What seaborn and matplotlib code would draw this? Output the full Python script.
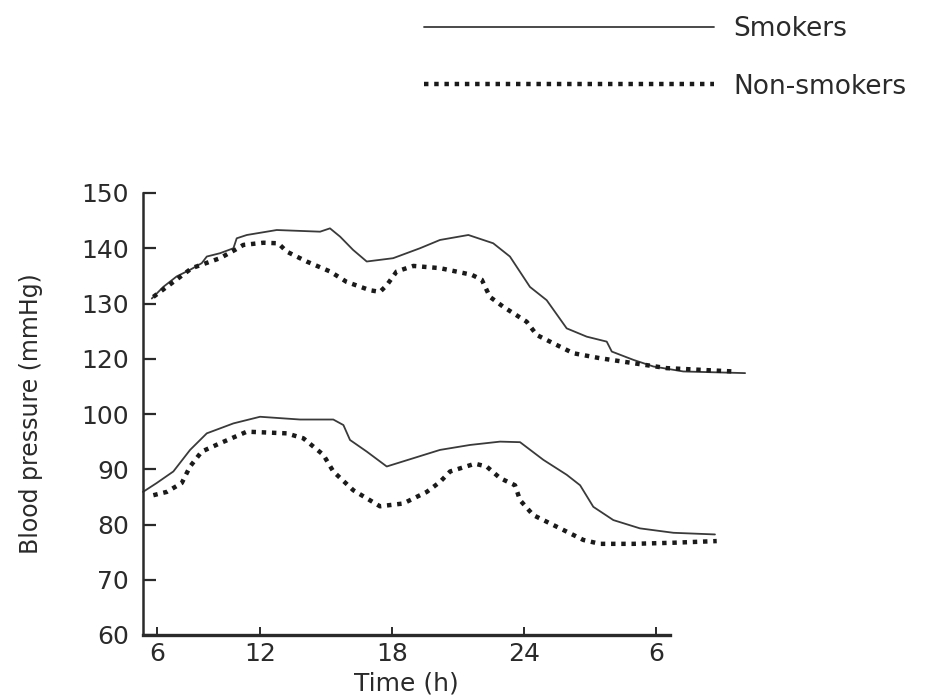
import numpy as np
import pandas as pd
import matplotlib
matplotlib.use("Agg")
import matplotlib.pyplot as plt
import seaborn as sns
from matplotlib.lines import Line2D

# ---------------- data (time in h since midnight, values in mmHg) ----------------
sys_smk_t = [7.08, 7.60, 8.21, 8.82, 9.35, 9.58, 10.18, 10.79, 10.94, 11.40, 12.76, 14.73,
             15.18, 15.64, 16.23, 16.85, 18.05, 19.27, 20.18, 21.47, 22.60, 23.36, 24.27,
             25.03, 25.94, 26.85, 27.76, 27.99, 28.97, 29.88, 31.24, 34.05]
sys_smk_v = [130.9, 133.0, 134.9, 136.1, 137.3, 138.5, 139.1, 140.0, 141.8, 142.4, 143.3, 143.0,
             143.6, 142.1, 139.7, 137.6, 138.2, 140.0, 141.5, 142.4, 140.9, 138.5, 133.0,
             130.6, 125.5, 124.0, 123.1, 121.3, 119.8, 118.6, 117.7, 117.4]

sys_non_t = [7.15, 8.90, 10.18, 10.86, 11.24, 12.15, 12.83, 13.21, 14.12, 15.18, 15.94, 17.00,
             17.45, 17.76, 18.21, 18.97, 20.18, 21.62, 22.08, 22.45, 23.06, 24.12, 24.58,
             25.33, 26.24, 27.45, 28.97, 30.49, 33.51]
sys_non_v = [131.2, 136.4, 138.2, 139.7, 140.6, 141.0, 140.9, 139.4, 137.6, 135.8, 133.9, 132.4,
             132.1, 133.3, 135.8, 136.8, 136.4, 135.2, 134.3, 131.2, 129.4, 126.7, 124.3,
             122.8, 121.0, 120.1, 119.2, 118.3, 117.7]

dia_smk_t = [6.68, 7.30, 8.06, 8.82, 9.58, 10.79, 12.00, 13.82, 15.33, 15.79, 16.09, 16.85,
             17.76, 18.97, 20.18, 21.55, 22.91, 23.82, 24.88, 25.94, 26.55, 27.15, 28.06,
             29.27, 30.79, 32.68]
dia_smk_v = [85.9, 87.5, 89.6, 93.5, 96.5, 98.3, 99.5, 99.0, 99.0, 98.0, 95.3, 93.2,
             90.5, 92.0, 93.5, 94.4, 95.0, 94.9, 91.7, 89.0, 87.1, 83.2, 80.8,
             79.3, 78.5, 78.2]

dia_non_t = [7.15, 7.76, 8.44, 8.82, 9.35, 10.18, 11.40, 13.21, 13.97, 14.88, 15.33, 16.24,
             17.45, 18.51, 19.58, 20.18, 20.64, 21.77, 22.30, 22.91, 23.59, 23.82, 24.42,
             25.64, 26.70, 27.45, 28.97, 30.79, 32.76]
dia_non_v = [85.3, 85.9, 87.5, 90.5, 93.2, 94.7, 96.8, 96.5, 95.6, 92.6, 89.6, 86.2,
             83.3, 83.8, 85.9, 87.7, 89.6, 91.0, 90.5, 88.4, 87.1, 84.4, 81.7,
             79.3, 77.2, 76.5, 76.5, 76.7, 77.0]

y_tick_labels = ["60", "70", "80", "90", "100", "120", "130", "140", "150"]
x_tick_hours = [7.32, 12, 18, 24, 30]
x_tick_labels = ["6", "12", "18", "24", "6"]
series_names = ["Smokers", "Non-smokers"]


def axis_pos(v):
    """Broken y axis: the 100-120 gap is collapsed into one tick step."""
    v = np.asarray(v, dtype=float)
    return np.where(v > 105, v - 10, v)


frames = []
for t, v, grp, kind in [(sys_smk_t, sys_smk_v, "Smokers", "sys"),
                        (sys_non_t, sys_non_v, "Non-smokers", "sys"),
                        (dia_smk_t, dia_smk_v, "Smokers", "dia"),
                        (dia_non_t, dia_non_v, "Non-smokers", "dia")]:
    frames.append(pd.DataFrame({"t": t, "pos": axis_pos(v), "group": grp,
                                "curve": f"{grp}-{kind}"}))
df = pd.concat(frames, ignore_index=True)

sns.set_theme(style="ticks")
plt.rcParams["font.family"] = ["DejaVu Sans"]

fig = plt.figure(figsize=(9.44, 7.0), dpi=100)
ax_l, ax_r, ax_t, ax_b = 143, 752, 193, 635
ax = fig.add_axes([ax_l / 944, 1 - ax_b / 700, (ax_r - ax_l) / 944, (ax_b - ax_t) / 700])

ink = "#2a2a2a"
solid_kw = dict(color="#3a3a3a", lw=1.3, solid_joinstyle="round")
dot_kw = dict(color="#1a1a1a", lw=3.2, linestyle=(0, (1.0, 1.3)), dash_capstyle="butt")

for curve, sub in df.groupby("curve", sort=False):
    kw = solid_kw if sub["group"].iloc[0] == "Smokers" else dot_kw
    sns.lineplot(data=sub, x="t", y="pos", estimator=None, sort=False, ax=ax,
                 legend=False, clip_on=False, **kw)

x_left = 6.68
ax.set_xlim(x_left, 12 + (ax_r - 260) / 22)
ax.set_ylim(60, 140)

for s in ["top", "right"]:
    ax.spines[s].set_visible(False)
ax.spines["left"].set_linewidth(1.8)
ax.spines["bottom"].set_linewidth(2.4)
ax.spines["left"].set_color(ink)
ax.spines["bottom"].set_color(ink)
ax.spines["bottom"].set_bounds(x_left, 12 + (670 - 260) / 22)

ax.set_yticks(np.arange(60, 141, 10))
ax.set_yticklabels(y_tick_labels)
ax.set_xticks(x_tick_hours)
ax.set_xticklabels(x_tick_labels)
ax.tick_params(axis="y", direction="in", length=9, width=1.6, color=ink,
               labelsize=18, labelcolor=ink, pad=10)
ax.tick_params(axis="x", direction="in", length=6, width=1.4, color=ink,
               labelsize=18, labelcolor=ink, pad=5)

ax.set_xlabel("Time (h)", fontsize=18, color=ink)
ax.set_ylabel("Blood pressure (mmHg)", fontsize=17, color=ink)
ax.xaxis.set_label_coords((406 - ax_l) / (ax_r - ax_l), -(671 - ax_b) / (ax_b - ax_t))
ax.yaxis.set_label_coords(-(ax_l - 43) / (ax_r - ax_l), 0.5)

handles = [Line2D([], [], **solid_kw), Line2D([], [], **dot_kw)]
fig.legend(handles, series_names, loc="upper left", bbox_to_anchor=(424 / 944, 1 - 16 / 700),
           frameon=False, fontsize=19, handlelength=11.0, handletextpad=0.72,
           labelspacing=1.2, borderpad=0, borderaxespad=0, labelcolor=ink)

fig.savefig("out.png", dpi=100, facecolor="white")
